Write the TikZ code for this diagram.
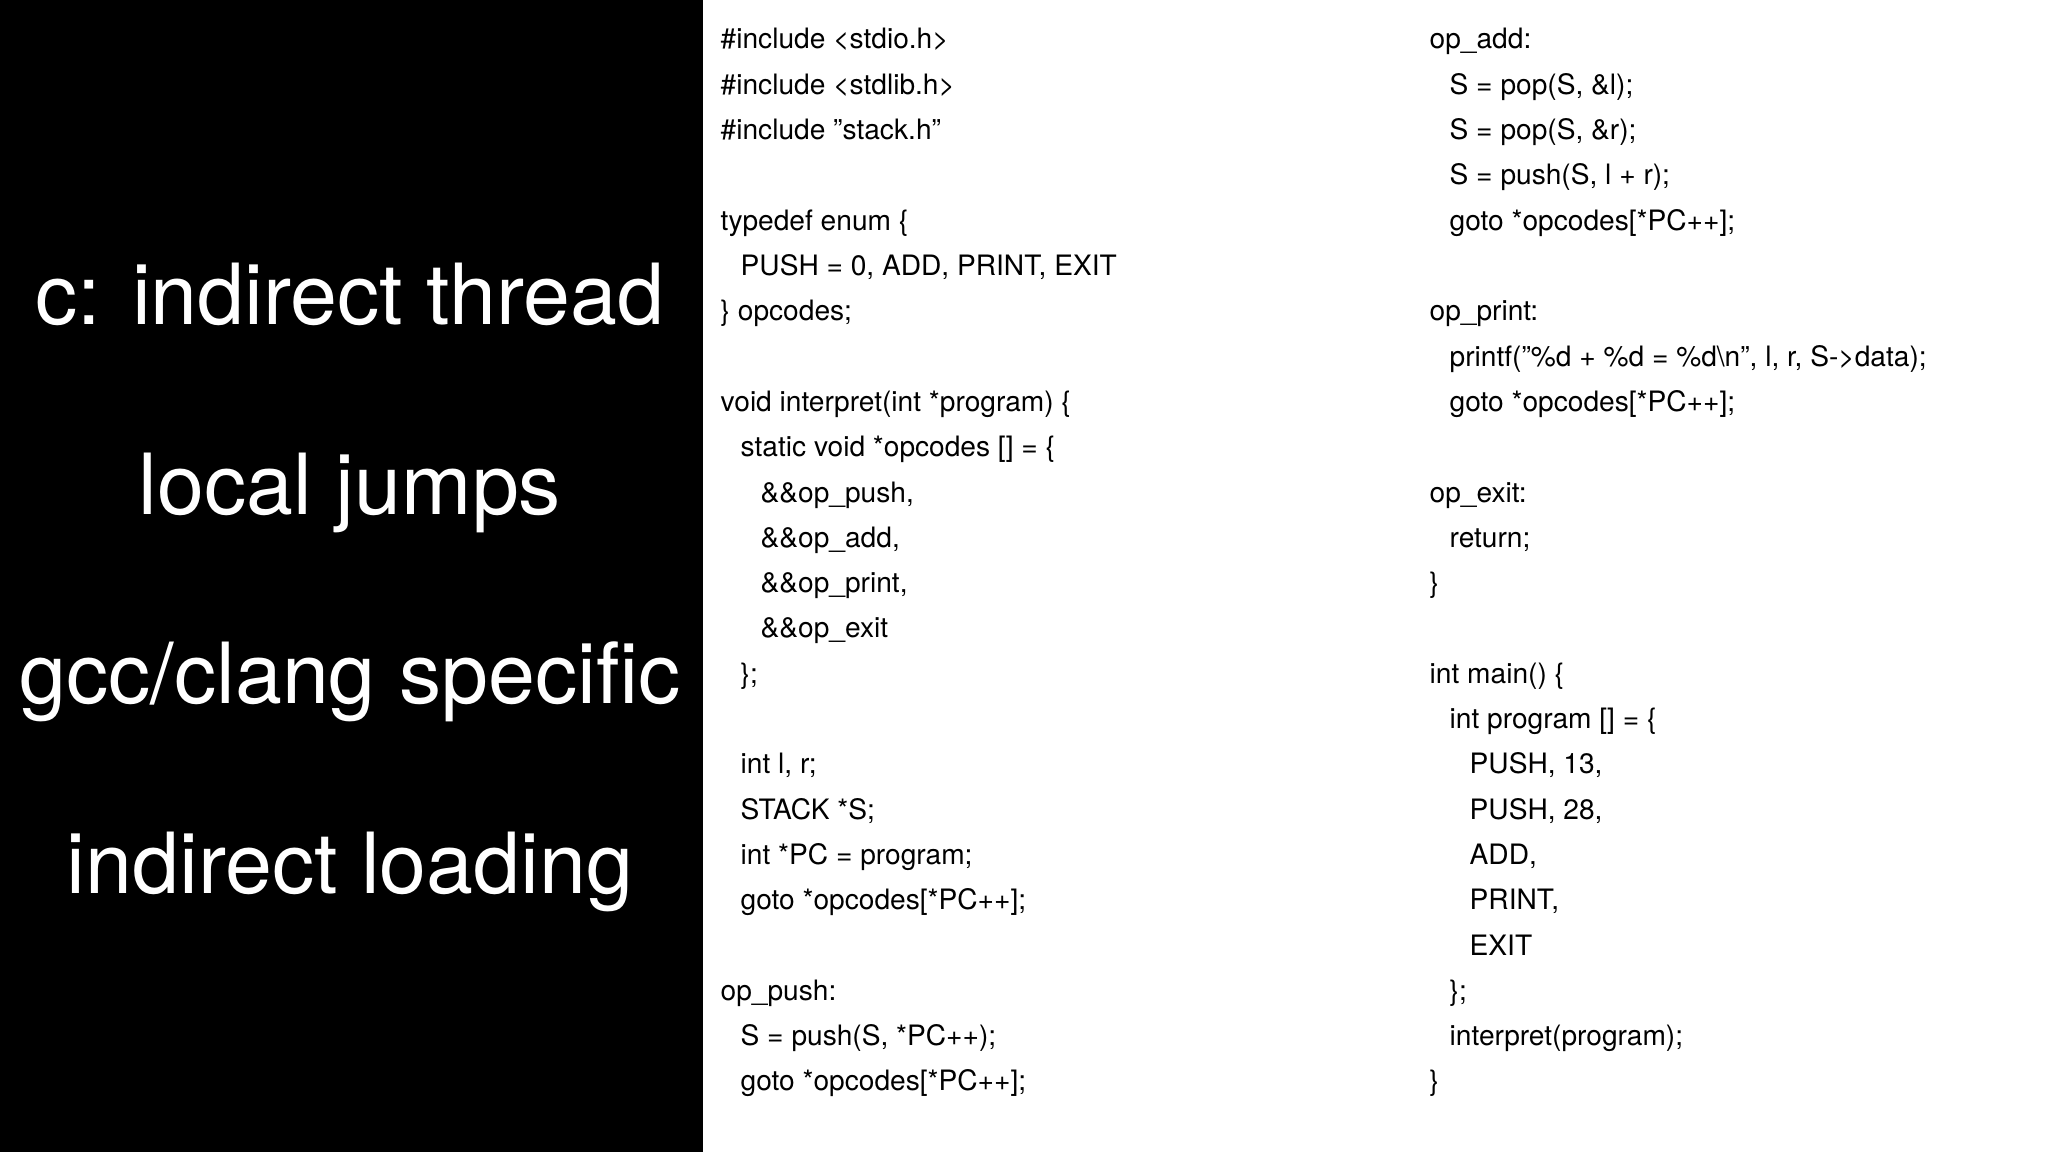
\documentclass[tikz,border=0pt]{standalone}
\usepackage{fontspec}
\setmainfont{TeX Gyre Heros}
\tikzset{
  title/.style={text=white, font=\fontsize{24}{28}\selectfont, anchor=base},
  code/.style={anchor=base west, inner sep=0pt, font=\fontsize{8}{10}\selectfont}
}
% one code line: name, column x, row, indent level, text
\newcommand{\codeline}[5]{\node[code] (#1) at ({#2+0.2*#4},{-0.49-0.453*#3}) {#5};}
\begin{document}
\begin{tikzpicture}
\useasboundingbox (0,0) rectangle (20.48,-11.52);
\fill[white] (0,0) rectangle (20.48,-11.52);
\fill[black] (0,0) rectangle (7.03,-11.52);

\node[title] (t1) at (3.5,-3.25) {c: indirect thread};
\node[title] (t2) at (3.5,-5.15) {local jumps};
\node[title] (t3) at (3.5,-7.04) {gcc/clang specific};
\node[title] (t4) at (3.5,-8.93) {indirect loading};

% left column
\codeline{a0}{7.2}{0}{0}{\#include <stdio.h>}
\codeline{a1}{7.2}{1}{0}{\#include <stdlib.h>}
\codeline{a2}{7.2}{2}{0}{\#include "stack.h"}
\codeline{a4}{7.2}{4}{0}{typedef enum \{}
\codeline{a5}{7.2}{5}{1}{PUSH = 0, ADD, PRINT, EXIT}
\codeline{a6}{7.2}{6}{0}{\} opcodes;}
\codeline{a8}{7.2}{8}{0}{void interpret(int *program) \{}
\codeline{a9}{7.2}{9}{1}{static void *opcodes [] = \{}
\codeline{a10}{7.2}{10}{2}{\&\&op\_push,}
\codeline{a11}{7.2}{11}{2}{\&\&op\_add,}
\codeline{a12}{7.2}{12}{2}{\&\&op\_print,}
\codeline{a13}{7.2}{13}{2}{\&\&op\_exit}
\codeline{a14}{7.2}{14}{1}{\};}
\codeline{a16}{7.2}{16}{1}{int l, r;}
\codeline{a17}{7.2}{17}{1}{STACK *S;}
\codeline{a18}{7.2}{18}{1}{int *PC = program;}
\codeline{a19}{7.2}{19}{1}{goto *opcodes[*PC++];}
\codeline{a21}{7.2}{21}{0}{op\_push:}
\codeline{a22}{7.2}{22}{1}{S = push(S, *PC++);}
\codeline{a23}{7.2}{23}{1}{goto *opcodes[*PC++];}

% right column
\codeline{b0}{14.29}{0}{0}{op\_add:}
\codeline{b1}{14.29}{1}{1}{S = pop(S, \&l);}
\codeline{b2}{14.29}{2}{1}{S = pop(S, \&r);}
\codeline{b3}{14.29}{3}{1}{S = push(S, l + r);}
\codeline{b4}{14.29}{4}{1}{goto *opcodes[*PC++];}
\codeline{b6}{14.29}{6}{0}{op\_print:}
\codeline{b7}{14.29}{7}{1}{printf("\%d + \%d = \%d\textbackslash n", l, r, S->data);}
\codeline{b8}{14.29}{8}{1}{goto *opcodes[*PC++];}
\codeline{b10}{14.29}{10}{0}{op\_exit:}
\codeline{b11}{14.29}{11}{1}{return;}
\codeline{b12}{14.29}{12}{0}{\}}
\codeline{b14}{14.29}{14}{0}{int main() \{}
\codeline{b15}{14.29}{15}{1}{int program [] = \{}
\codeline{b16}{14.29}{16}{2}{PUSH, 13,}
\codeline{b17}{14.29}{17}{2}{PUSH, 28,}
\codeline{b18}{14.29}{18}{2}{ADD,}
\codeline{b19}{14.29}{19}{2}{PRINT,}
\codeline{b20}{14.29}{20}{2}{EXIT}
\codeline{b21}{14.29}{21}{1}{\};}
\codeline{b22}{14.29}{22}{1}{interpret(program);}
\codeline{b23}{14.29}{23}{0}{\}}
\end{tikzpicture}
\end{document}
